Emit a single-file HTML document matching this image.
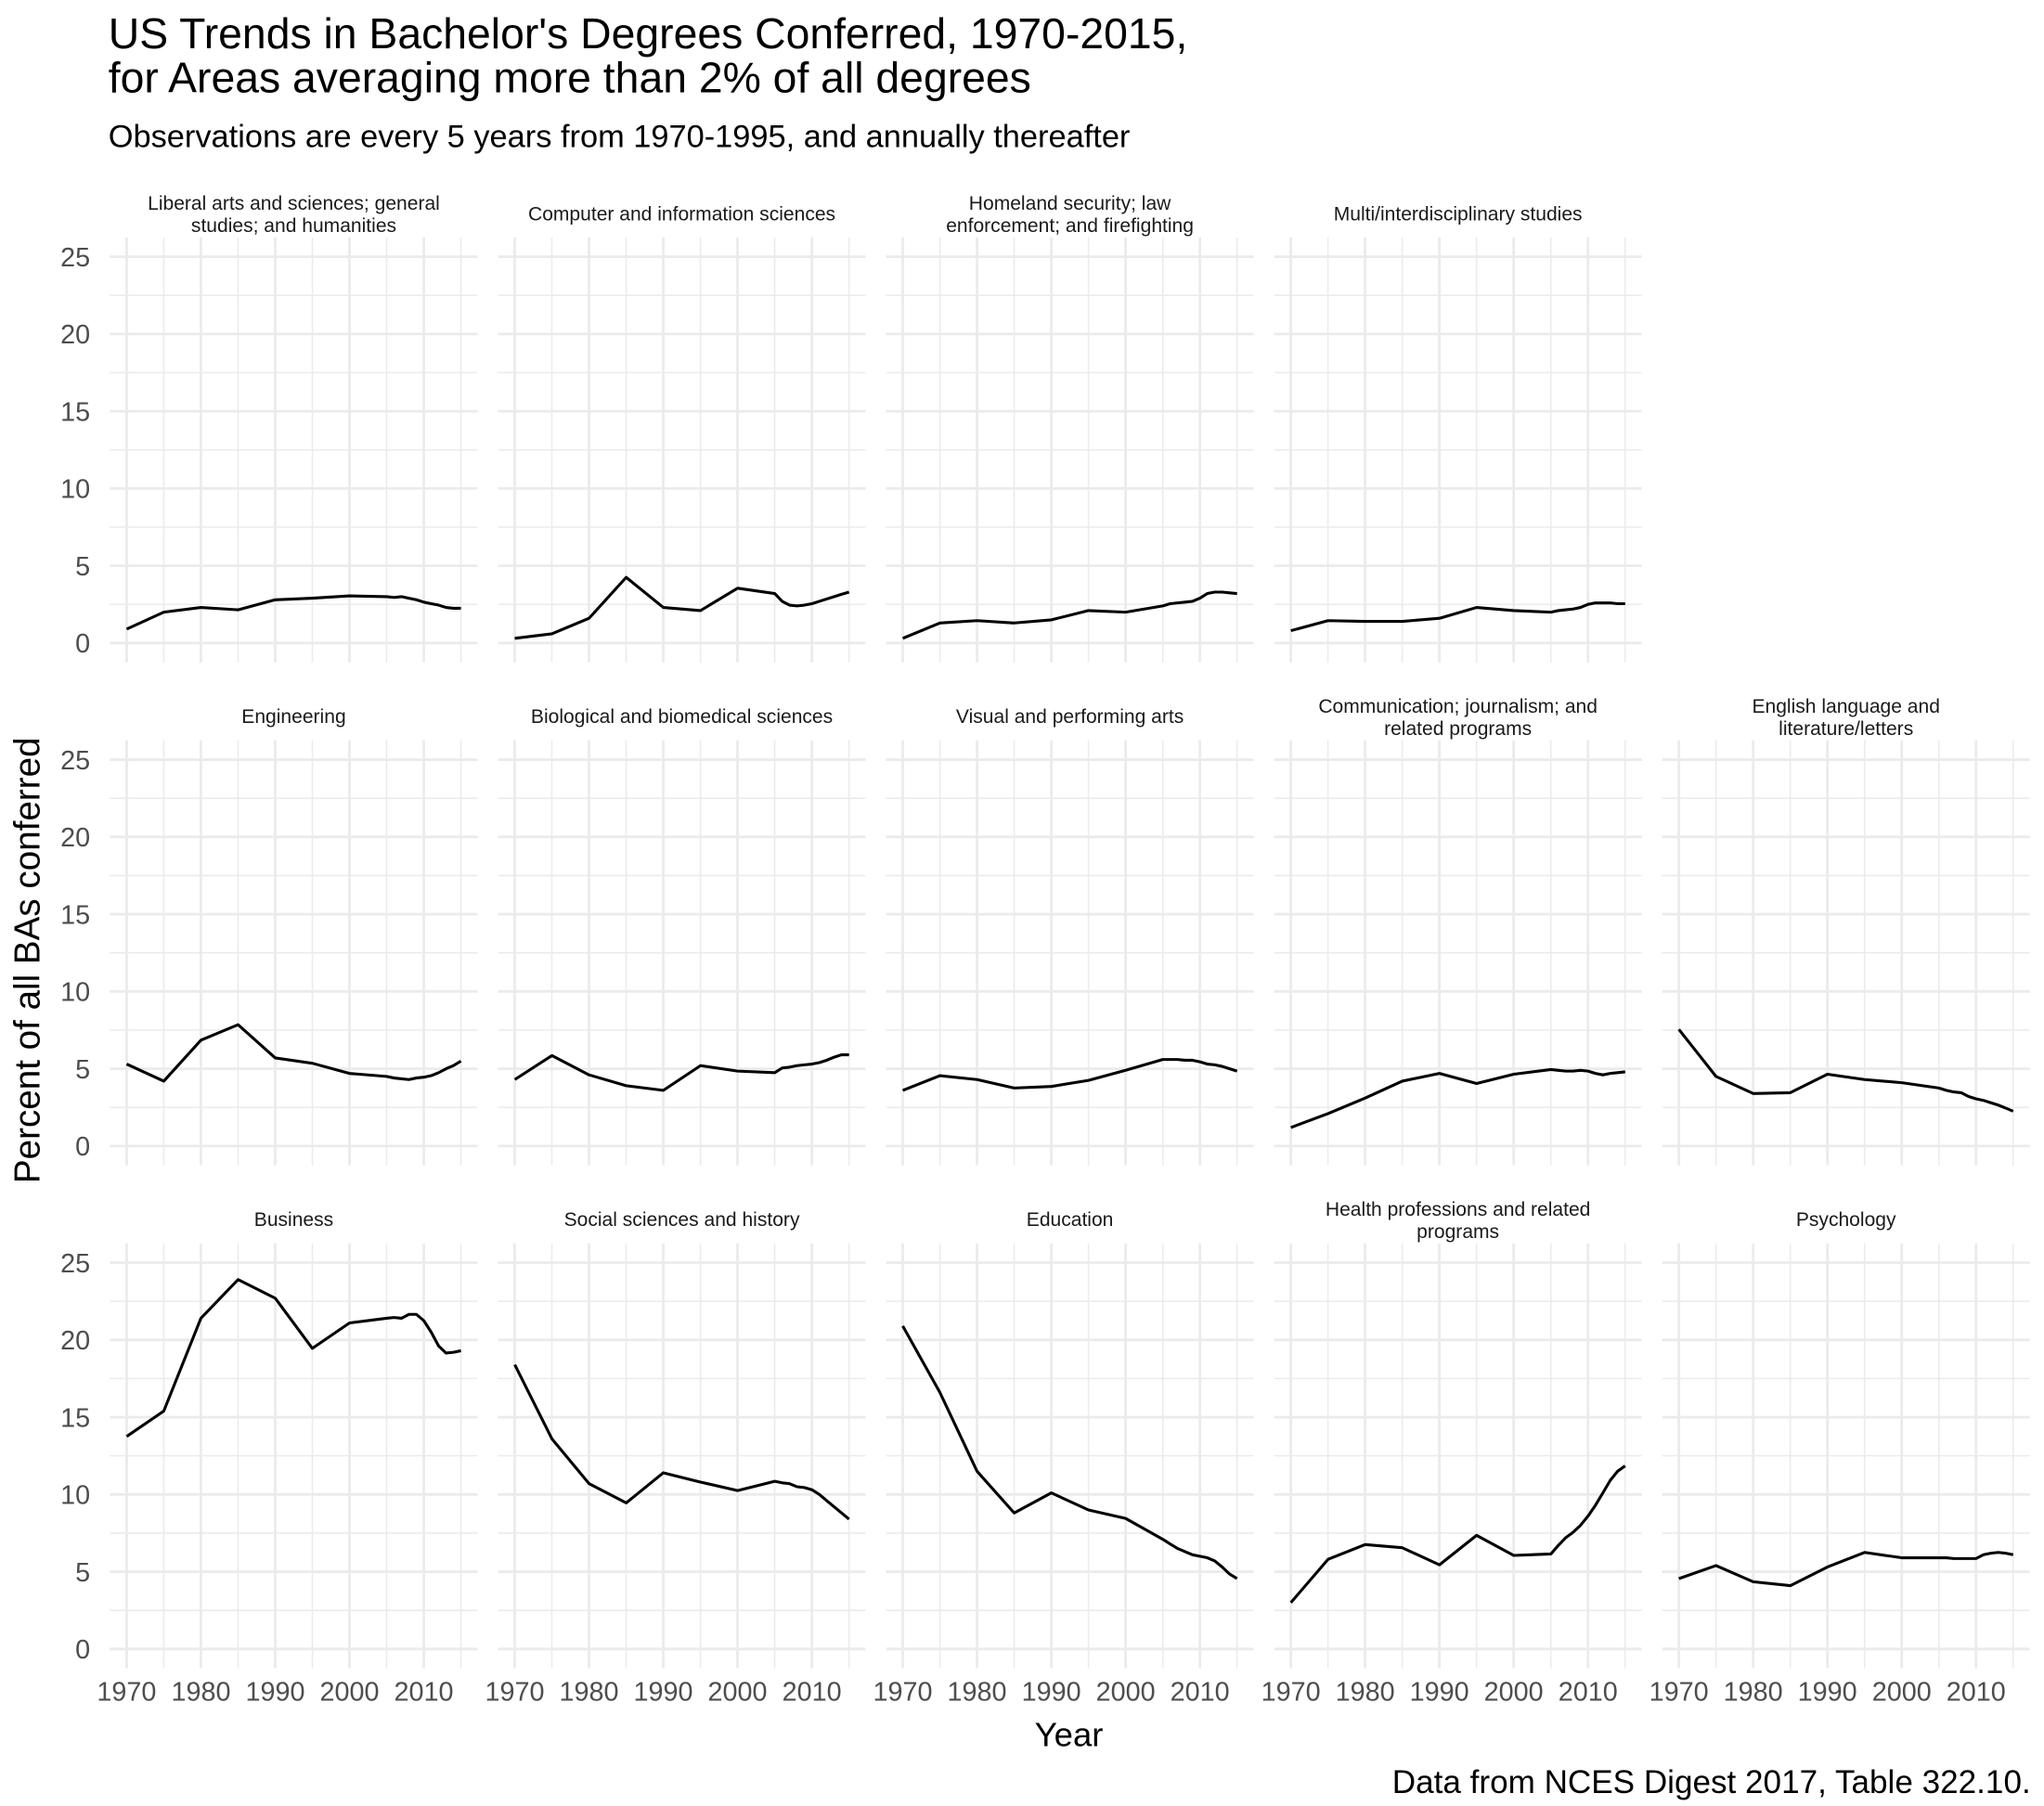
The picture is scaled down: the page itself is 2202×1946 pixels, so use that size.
<!DOCTYPE html>
<html><head><meta charset="utf-8">
<style>
html,body{margin:0;padding:0;background:#fff;}
svg{display:block;}
text{font-family:"Liberation Sans",Arial,sans-serif;}
</style></head>
<body>
<svg id="s" width="2202" height="1946" viewBox="0 0 1568 1386" xmlns="http://www.w3.org/2000/svg">
<rect width="1568" height="1386" fill="#fff"/>
<g id="grid"></g>
<g id="lines"></g>
<text x="83" y="37" font-size="33" fill="#000">US Trends in Bachelor's Degrees Conferred, 1970-2015,</text>
<text x="83" y="71" font-size="33" fill="#000">for Areas averaging more than 2% of all degrees</text>
<text x="83" y="113" font-size="24.5" fill="#000">Observations are every 5 years from 1970-1995, and annually thereafter</text>
<text x="820" y="1340" font-size="26" text-anchor="middle" fill="#000">Year</text>
<text transform="translate(30,737) rotate(-90)" font-size="27.5" text-anchor="middle" fill="#000">Percent of all BAs conferred</text>
<text x="1558" y="1376" font-size="25" text-anchor="end" fill="#000">Data from NCES Digest 2017, Table 322.10.</text>
</svg>
<script>
(function(){
var NS="http://www.w3.org/2000/svg";
var grid=document.getElementById('grid'),lines=document.getElementById('lines'),svg=document.getElementById('s');
function el(p,t,a,txt){var e=document.createElementNS(NS,t);for(var k in a)e.setAttribute(k,a[k]);if(txt!=null)e.textContent=txt;p.appendChild(e);return e;}
var years=[1970,1975,1980,1985,1990,1995,2000,2005,2006,2007,2008,2009,2010,2011,2012,2013,2014,2015];
var panels=[
[0,0,["Liberal arts and sciences; general","studies; and humanities"],[0.9,2.0,2.3,2.15,2.8,2.9,3.05,3.0,2.95,3.0,2.9,2.8,2.65,2.55,2.45,2.3,2.25,2.25]],
[0,1,["Computer and information sciences"],[0.3,0.6,1.6,4.25,2.3,2.1,3.55,3.2,2.7,2.45,2.4,2.45,2.55,2.7,2.85,3.0,3.15,3.3]],
[0,2,["Homeland security; law","enforcement; and firefighting"],[0.3,1.3,1.45,1.3,1.5,2.1,2.0,2.4,2.55,2.6,2.65,2.7,2.9,3.2,3.3,3.3,3.25,3.2]],
[0,3,["Multi/interdisciplinary studies"],[0.8,1.45,1.4,1.4,1.6,2.3,2.1,2.0,2.1,2.15,2.2,2.3,2.5,2.6,2.6,2.6,2.55,2.55]],
[1,0,["Engineering"],[5.3,4.2,6.85,7.85,5.7,5.35,4.7,4.5,4.4,4.35,4.3,4.4,4.45,4.55,4.75,5.0,5.2,5.5]],
[1,1,["Biological and biomedical sciences"],[4.3,5.85,4.6,3.9,3.6,5.2,4.85,4.75,5.05,5.1,5.2,5.25,5.3,5.4,5.55,5.75,5.9,5.9]],
[1,2,["Visual and performing arts"],[3.6,4.55,4.3,3.75,3.85,4.25,4.9,5.6,5.6,5.6,5.55,5.55,5.45,5.3,5.25,5.15,5.0,4.85]],
[1,3,["Communication; journalism; and","related programs"],[1.2,2.1,3.1,4.2,4.7,4.05,4.65,4.95,4.9,4.85,4.85,4.9,4.85,4.7,4.6,4.7,4.75,4.8]],
[1,4,["English language and","literature/letters"],[7.55,4.5,3.4,3.45,4.65,4.3,4.1,3.75,3.6,3.5,3.45,3.2,3.05,2.95,2.8,2.65,2.45,2.25]],
[2,0,["Business"],[13.75,15.4,21.4,23.9,22.7,19.45,21.1,21.4,21.45,21.4,21.65,21.65,21.25,20.5,19.6,19.15,19.2,19.3]],
[2,1,["Social sciences and history"],[18.4,13.6,10.7,9.45,11.4,10.8,10.25,10.85,10.75,10.7,10.5,10.45,10.3,10.0,9.6,9.2,8.8,8.4]],
[2,2,["Education"],[20.9,16.6,11.5,8.8,10.1,9.0,8.45,7.1,6.8,6.5,6.3,6.1,6.0,5.9,5.7,5.3,4.85,4.55]],
[2,3,["Health professions and related","programs"],[3.0,5.8,6.75,6.55,5.45,7.35,6.05,6.15,6.7,7.2,7.55,8.0,8.6,9.3,10.1,10.9,11.5,11.85]],
[2,4,["Psychology"],[4.55,5.4,4.35,4.1,5.3,6.25,5.9,5.9,5.9,5.85,5.85,5.85,5.85,6.1,6.2,6.25,6.2,6.1]]
];
var X0=[97,394.75,692.5,990.25,1288], PY=5.7;
var Y25=[197,583,969], UY=11.86;
function px(c,yr){return X0[c]+(yr-1970)*PY;}
function py(r,v){return Y25[r]+(25-v)*UY;}
for(var r=0;r<3;r++)for(var c=0;c<5;c++){
  if(r==0&&c==4)continue;
  var l=px(c,1970)-12.8,rt=px(c,2015)+12.8,t=py(r,26.25),b=py(r,-1.25);
  for(var v=0;v<=25;v+=2.5){var maj=(v%5==0);el(grid,'line',{x1:l,x2:rt,y1:py(r,v),y2:py(r,v),stroke:'#ebebeb','stroke-width':maj?2.0:1.1});}
  for(var yr=1970;yr<=2015;yr+=5){var maj=(yr%10==0);el(grid,'line',{x1:px(c,yr),x2:px(c,yr),y1:t,y2:b,stroke:'#ebebeb','stroke-width':maj?2.0:1.1});}
}
for(var r=0;r<3;r++)for(var v=0;v<=25;v+=5){el(svg,'text',{x:69,y:py(r,v)+7.3,'font-size':20.5,'text-anchor':'end',fill:'#4d4d4d'},String(v));}
for(var c=0;c<5;c++)for(var yr=1970;yr<=2010;yr+=10){el(svg,'text',{x:px(c,yr),y:1305,'font-size':20.5,'text-anchor':'middle',fill:'#4d4d4d'},String(yr));}
var stripY=[164,550,936];
panels.forEach(function(p){
  var r=p[0],c=p[1],lab=p[2],d=p[3];
  var cx=(px(c,1970)+px(c,2015))/2;
  if(lab.length==1){el(svg,'text',{x:cx,y:stripY[r]+5,'font-size':15,'text-anchor':'middle',fill:'#1a1a1a'},lab[0]);}
  else{el(svg,'text',{x:cx,y:stripY[r]-3,'font-size':15,'text-anchor':'middle',fill:'#1a1a1a'},lab[0]);
       el(svg,'text',{x:cx,y:stripY[r]+14,'font-size':15,'text-anchor':'middle',fill:'#1a1a1a'},lab[1]);}
  var pts=d.map(function(v,i){return px(c,years[i]).toFixed(1)+','+py(r,v).toFixed(1);}).join(' ');
  el(lines,'polyline',{points:pts,fill:'none',stroke:'#000','stroke-width':2.2,'stroke-linejoin':'round'});
});
})();
</script>
</body></html>
